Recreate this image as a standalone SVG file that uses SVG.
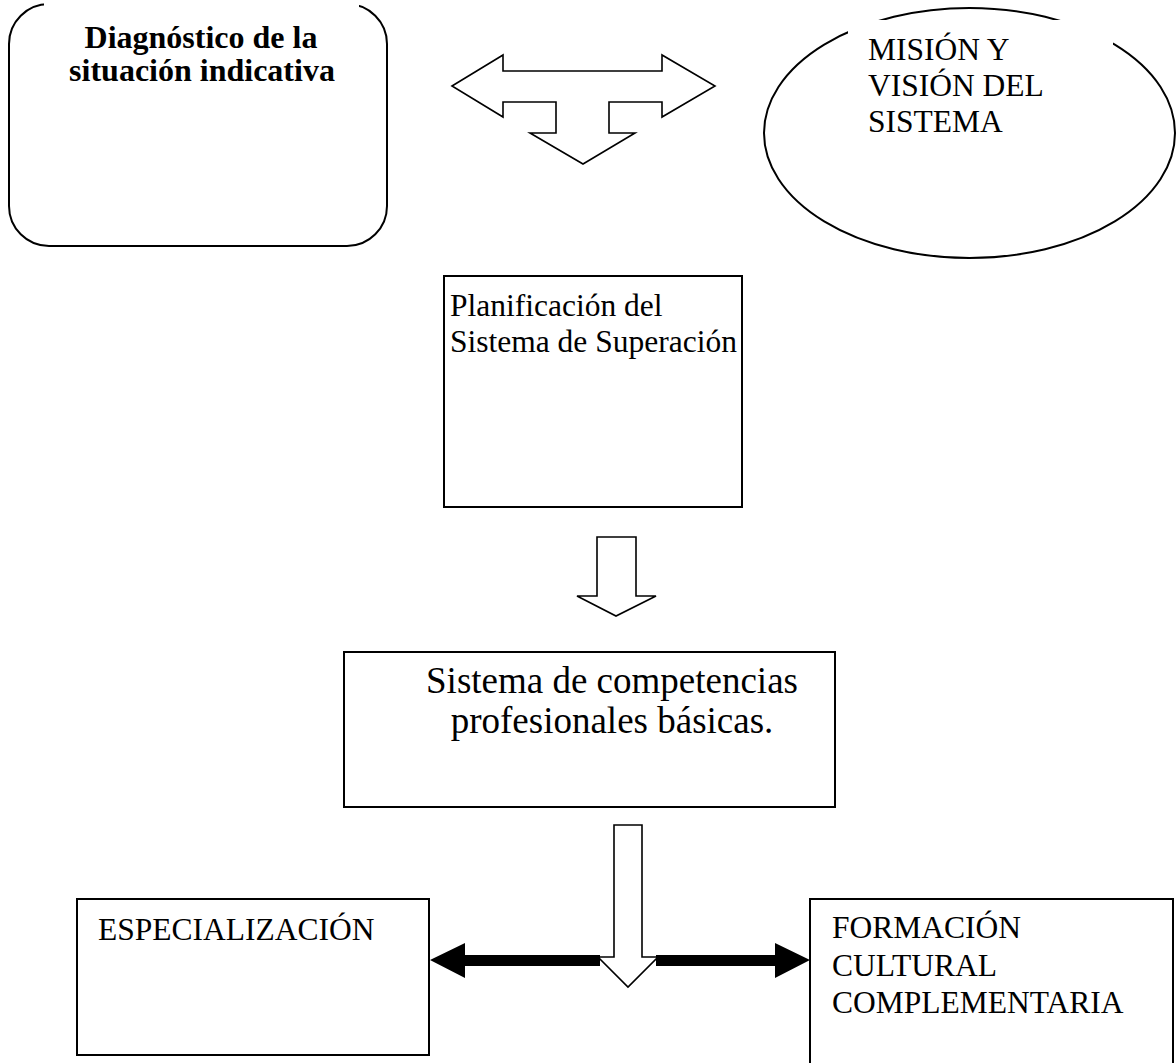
<svg xmlns="http://www.w3.org/2000/svg" width="1176" height="1063" viewBox="0 0 1176 1063">
<style>
.box{fill:#fff;stroke:#000;stroke-width:2}
.outline{fill:#fff;stroke:#000;stroke-width:1.6;stroke-linejoin:miter}
.solid{fill:#000;stroke:none}
.t{font-family:"Liberation Serif","Times New Roman",serif;font-size:31.5px;fill:#000}
.tb{font-family:"Liberation Serif","Times New Roman",serif;font-size:32px;font-weight:bold;fill:#000}
.tl{font-family:"Liberation Serif","Times New Roman",serif;font-size:37px;fill:#000}
</style>
<rect width="1176" height="1063" fill="#fff"/>
<g id="diagnostico">
<rect class="box" x="9" y="4" width="378" height="242" rx="40" ry="40"/>
<rect x="44" y="0" width="315" height="22" fill="#fff"/>
<text class="tb" text-anchor="middle" x="201" y="48">Diagnóstico de la</text>
<text class="tb" text-anchor="middle" x="202" y="81">situación indicativa</text>
</g>
<g id="mision">
<ellipse cx="969.5" cy="133" rx="205.5" ry="125" fill="#fff" stroke="#000" stroke-width="2"/>
<rect x="848" y="20" width="265" height="130" fill="#fff"/>
<text class="t" x="868" y="60">MISIÓN Y</text>
<text class="t" x="868" y="96">VISIÓN DEL</text>
<text class="t" x="868" y="132">SISTEMA</text>
</g>
<g id="planificacion">
<rect class="box" x="444" y="276" width="298" height="231"/>
<text class="t" x="450" y="316">Planificación del</text>
<text class="t" x="450" y="352">Sistema de Superación</text>
</g>
<g id="sistema">
<rect class="box" x="344" y="652" width="491" height="155"/>
<text class="tl" text-anchor="middle" x="612" y="693">Sistema de competencias</text>
<text class="tl" text-anchor="middle" x="612" y="733">profesionales básicas.</text>
</g>
<g id="especializacion">
<rect class="box" x="77" y="899" width="352" height="156"/>
<text class="t" x="98" y="940">ESPECIALIZACIÓN</text>
</g>
<g id="formacion">
<rect class="box" x="810" y="899" width="363" height="180"/>
<text class="t" x="832" y="938">FORMACIÓN</text>
<text class="t" x="832" y="976">CULTURAL</text>
<text class="t" x="832" y="1013">COMPLEMENTARIA</text>
</g>
<g id="connectors">
<path class="outline" d="M452,86 L503,55 L503,71 L662,71 L662,55 L715,86 L662,117 L662,102 L609,102 L609,133 L635,133 L583,164 L530,133 L556,133 L556,102 L503,102 L503,117 Z"/>
<path class="outline" d="M597,537 L636,537 L636,596 L656,596 L616,616 L577,596 L597,596 Z"/>
<path class="outline" d="M614,825 L642,825 L642,957 L658,957 L628,987 L598,957 L614,957 Z"/>
<path class="solid" d="M430,960 L465,943 L465,955 L600,955 L600,966 L465,966 L465,978 Z"/>
<path class="solid" d="M810,960 L775,943 L775,955 L656,955 L656,966 L775,966 L775,978 Z"/>
</g>
</svg>
